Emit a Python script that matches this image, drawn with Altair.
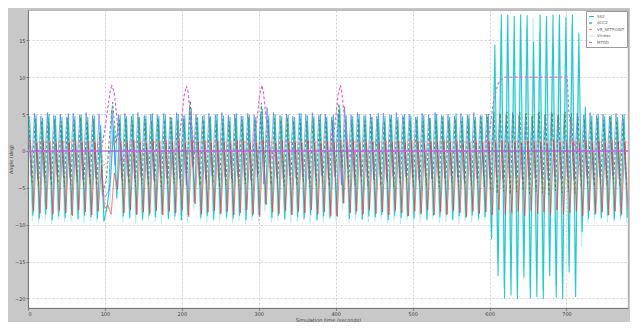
import altair as alt
import pandas as pd

STEP = 4.2          # time between successive extreme points of the oscillations
X_MAX = 780

x_ticks = [0, 100, 200, 300, 400, 500, 600, 700]
y_ticks = [-20, -15, -10, -5, 0, 5, 10, 15]

# oscillating signals: alternating peak / trough values
blue = [4.9,-3.4,5.1,-3.8,4.7,-3.5,5.2,-3.9,4.8,-3.3,5.0,-3.7,4.6,-3.6,5.1,-3.4,4.9,-3.9,5.2,-3.5,
        4.8,-3.6,5.0,-6.0,-6.2,-5.4,5.6,-2.0,4.9,-3.7,5.1,-3.4,4.7,-3.8,5.2,-3.5,4.8,-3.6,5.0,-3.9,
        4.9,-3.4,5.1,-3.7,4.6,-3.5,5.2,-3.8,4.8,-4.6,6.0,-2.2,5.0,-3.6,4.7,-3.9,5.1,-3.4,4.9,-3.7,
        5.2,-3.5,4.8,-3.8,5.0,-3.4,4.7,-3.6,5.1,-3.9,4.9,-3.5,5.0,-4.5,5.9,-2.4,5.2,-3.6,4.8,-3.8,
        5.0,-3.4,4.7,-3.7,5.1,-3.5,4.9,-3.9,5.2,-3.6,4.8,-3.4,5.0,-3.8,4.6,-3.5,5.1,-4.6,6.0,-2.3,
        4.9,-3.7,5.2,-3.4,4.8,-3.6,5.0,-3.9,4.7,-3.5,5.1,-3.8,4.9,-3.4,5.2,-3.7,4.8,-3.5,5.0,-3.6,
        4.6,-3.9,5.1,-3.4,4.9,-3.8,5.2,-3.5,4.8,-3.7,5.0,-3.4,4.7,-3.6,5.1,-3.9,4.9,-3.5,5.2,-3.8,
        4.8,-3.4,5.0,-3.7,4.6,-3.5,5.1,-3.9,4.9,-3.6,5.2,-3.4,4.8,-3.8,5.0,-3.5,4.7,-3.7,5.1,-3.6,
        4.9,-3.9,5.2,-3.4,4.8,-3.7,5.0,-3.5,4.6,-3.8,5.1,-3.6,4.9,-3.4,5.2,-3.9,4.8,-3.5,5.0,-3.7,
        4.7,-3.4,5.1,-3.8,4.9,-3.6]

cyan = [4.7,-8.8,4.9,-9.2,4.5,-8.6,5.0,-9.4,4.8,-8.9,4.6,-9.1,5.1,-8.7,4.7,-9.3,4.9,-8.8,4.6,-9.0,
        4.8,-9.2,3.5,-9.6,-7.5,-4.0,3.2,-6.5,4.9,-8.9,4.7,-9.1,5.0,-8.7,4.6,-9.3,4.8,-8.8,5.1,-9.0,
        4.7,-8.6,4.9,-9.2,4.5,-8.9,5.0,-9.4,4.8,-8.7,5.8,-7.0,4.6,-9.1,4.9,-8.8,4.7,-9.3,5.0,-8.6,
        4.8,-9.0,4.6,-9.2,5.1,-8.8,4.7,-9.4,4.9,-8.9,4.6,-8.7,5.7,-7.2,4.8,-9.1,5.0,-8.8,4.7,-9.3,
        4.9,-8.6,4.6,-9.0,5.1,-9.2,4.8,-8.7,4.7,-9.4,5.0,-8.9,4.6,-9.1,4.9,-8.8,5.8,-7.1,4.8,-9.2,
        4.7,-8.6,5.0,-9.3,4.8,-8.9,4.6,-9.0,5.1,-8.7,4.7,-9.4,4.9,-8.8,4.6,-9.1,5.0,-8.9,4.8,-9.2,
        4.7,-8.6,4.9,-9.3,4.5,-8.8,5.0,-9.0,4.8,-8.7,4.6,-9.4,5.1,-8.9,4.7,-9.1,4.9,-8.8,4.6,-9.2,
        4.8,-9.0,5.0,-12.0,14.4,-17.0,18.5,-20.0,18.5,-19.6,18.3,-20.1,18.5,-17.2,18.4,-20.0,14.8,-19.8,18.5,-20.1,
        18.3,-17.0,18.5,-19.9,18.5,-20.1,18.2,-16.5,18.5,-19.8,16.0,-11.0,6.0,-9.2,4.8,-8.7,5.0,-9.1,4.7,-8.8,
        4.9,-9.3,4.6,-8.9,5.0,-9.0]

pale = [3.4,-9.5,3.7,-9.8,3.2,-9.3,3.6,-9.9,3.5,-9.4,3.3,-9.7,3.8,-9.6,3.4,-9.2,3.6,-9.8,3.2,-9.5,
        3.5,-9.7,2.0,-8.5,-8.0,-7.0,4.5,-5.0,3.4,-9.6,3.7,-9.3,3.3,-9.8,3.6,-9.5,3.5,-9.4,3.2,-9.7,
        3.6,-9.9,3.4,-9.3,3.7,-9.6,3.3,-9.5,3.5,-9.8,5.0,-8.0,3.6,-9.4,3.4,-9.7,3.2,-9.5,3.7,-9.6,
        3.5,-9.3,3.3,-9.8,3.6,-9.5,3.4,-9.9,3.7,-9.4,3.2,-9.6,4.8,-8.2,3.5,-9.7,3.3,-9.5,3.6,-9.3,
        3.4,-9.8,3.7,-9.6,3.2,-9.4,3.5,-9.9,3.6,-9.5,3.3,-9.7,3.4,-9.3,3.7,-9.6,5.0,-8.1,3.5,-9.8,
        3.2,-9.5,3.6,-9.4,3.4,-9.7,3.7,-9.6,3.3,-9.3,3.5,-9.8,3.6,-9.5,3.2,-9.9,3.4,-9.4,3.7,-9.6,
        3.5,-9.7,3.3,-9.5,3.6,-9.3,3.4,-9.8,3.7,-9.6,3.2,-9.4,3.5,-9.9,3.6,-9.5,3.3,-9.7,3.4,-9.6,
        3.7,-9.4,3.5,-11.0,9.0,-15.0,16.5,-18.5,17.8,-17.2,15.0,-18.8,17.6,-16.0,16.8,-18.6,17.9,-17.5,16.2,-18.9,
        17.5,-16.8,14.5,-18.4,17.7,-17.9,16.0,-15.5,17.2,-18.2,12.0,-13.0,5.0,-9.8,3.5,-9.5,3.6,-9.3,3.4,-9.7,
        3.7,-9.6,3.2,-9.4,3.5,-9.8]

green = [4.2,-4.5,4.4,-4.8,4.1,-4.3,4.5,-4.7,4.3,-4.4,4.0,-4.9,4.4,-4.6,4.2,-4.3,4.5,-4.8,4.1,-4.5,
         4.3,-4.7,2.5,-5.5,-4.0,2.0,6.6,1.0,4.2,-4.6,4.4,-4.4,4.1,-4.8,4.5,-4.5,4.3,-4.7,4.0,-4.3,
         4.4,-4.9,4.2,-4.6,4.5,-4.4,4.1,-4.8,4.3,-3.0,6.8,-2.0,4.4,-4.7,4.2,-4.5,4.5,-4.3,4.1,-4.9,
         4.3,-4.6,4.0,-4.4,4.4,-4.8,4.2,-4.5,4.5,-4.7,4.1,-3.2,6.5,-2.2,4.3,-4.6,4.4,-4.4,4.2,-4.8,
         4.5,-4.5,4.1,-4.7,4.3,-4.3,4.0,-4.9,4.4,-4.6,4.2,-4.4,4.5,-4.8,4.1,-3.1,6.4,-2.4,4.3,-4.5,
         4.2,-4.6,4.4,-4.4,4.1,-4.8,4.5,-4.5,4.3,-4.7,4.0,-4.3,4.4,-4.9,4.2,-4.6,4.5,-4.4,4.1,-4.8,
         4.3,-4.5,4.0,-4.7,4.4,-4.3,4.2,-4.9,4.5,-4.6,4.1,-4.4,4.3,-4.8,4.0,-4.5,4.4,-4.7,4.2,-4.3,
         4.5,-4.9,4.6,-5.4,5.2,-5.8,5.0,-5.5,5.3,-5.9,4.9,-5.6,5.2,-5.4,5.1,-5.8,4.8,-5.5,5.3,-5.7,
         5.0,-5.9,5.2,-5.4,4.9,-5.7,5.3,-5.5,5.1,-5.8,4.7,-5.0,4.3,-4.6,4.1,-4.8,4.4,-4.5,4.2,-4.7,
         4.5,-4.4,4.1,-4.8,4.3,-4.6]

red = [1.3,-8.2,1.1,-8.5,1.4,-7.9,1.2,-8.6,1.0,-8.1,1.3,-8.4,1.2,-8.8,1.4,-8.0,1.1,-8.3,1.3,-8.7,
       1.2,-8.2,-2.0,-7.8,-7.4,-8.6,-3.0,-5.2,1.3,-8.4,1.1,-8.0,1.4,-8.6,1.2,-8.3,1.0,-8.5,1.3,-8.1,
       1.2,-8.7,1.4,-8.2,1.1,-8.4,1.3,-8.0,1.0,-8.9,1.5,-7.2,1.2,-8.6,1.4,-8.3,1.1,-8.1,1.3,-8.5,
       1.2,-8.2,1.0,-8.7,1.4,-8.4,1.3,-8.0,1.1,-8.6,1.2,-8.9,1.5,-7.3,1.3,-8.3,1.0,-8.5,1.4,-8.1,
       1.2,-8.7,1.3,-8.2,1.1,-8.4,1.4,-8.0,1.2,-8.6,1.0,-8.3,1.3,-8.8,1.1,-8.9,1.5,-7.1,1.2,-8.4,
       1.4,-8.2,1.1,-8.6,1.3,-8.0,1.2,-8.5,1.0,-8.3,1.4,-8.7,1.2,-8.1,1.3,-8.4,1.1,-8.8,1.4,-8.2,
       1.2,-8.5,1.0,-8.0,1.3,-8.7,1.1,-8.3,1.4,-8.6,1.2,-8.1,1.3,-8.4,1.0,-8.9,1.2,-8.2,1.4,-8.5,
       1.1,-8.3,1.3,-8.7,1.2,-8.0,1.4,-8.6,1.0,-8.4,1.3,-8.2,1.1,-8.8,1.4,-8.1,1.2,-8.5,1.3,-8.3,
       1.0,-8.7,1.4,-8.0,1.2,-8.6,1.1,-8.4,1.3,-8.2,1.2,-8.8,1.4,-8.1,1.0,-8.5,1.3,-8.3,1.1,-8.7,
       1.4,-8.2,1.2,-8.6,1.3,-8.0]

# slowly varying signals, given as (time, value) breakpoints
setpoint_t = [0, 94, 98, 104, 108, 780]
setpoint_v = [1.2, 1.2, -2.0, -1.5, 1.2, 1.2]

zero_t = [0, 780]
zero_v = [0.0, 0.0]

mtdd_t = [0, 92, 96, 100, 104, 107, 109, 112, 116, 120, 124, 130,
          192, 196, 200, 203, 206, 208, 212, 216, 220, 226,
          290, 294, 298, 301, 304, 306, 310, 314, 318, 324,
          392, 396, 400, 403, 406, 408, 412, 416, 420, 426,
          594, 597, 601, 605, 611, 616, 620, 701, 703, 707, 714, 720, 780]
mtdd_v = [0, 0, 0.5, 3.0, 6.0, 8.2, 8.8, 8.0, 4.0, 0.0, -1.5, 0,
          0, 1.0, 4.5, 7.5, 8.8, 8.0, 4.0, 0.5, -1.0, 0,
          0, 1.0, 4.5, 7.5, 8.9, 8.0, 4.0, 0.5, -1.0, 0,
          0, 1.0, 4.5, 7.5, 8.9, 8.0, 4.0, 0.5, -1.0, 0,
          0, 1.0, 3.3, 6.6, 9.1, 9.7, 10.0, 10.0, 5.4, 1.6, 0.2, 0, 0]

# series: name, color, dash, width, opacity (drawing order bottom -> top)
order = ["Vmeas", "SS2", "Ib", "dCC2", "VR", "VR_SETPOINT", "Ref", "MTDD"]
colors = ["#a6ecec", "#12c4c8", "#4a66ff", "#2e9e5a", "#ff2a2a", "#ff8a7a", "#a060d0", "#e066e6"]
dashes = [[1, 0], [1, 0], [1, 0], [3, 2], [1, 0], [3, 2], [1, 0], [3, 2]]
widths = [1.2, 1.1, 0.9, 1.0, 0.9, 1.0, 1.5, 1.2]
alphas = [0.8, 0.9, 0.7, 0.9, 0.75, 0.9, 0.8, 1.0]
legend_names = ["SS2", "dCC2", "VR_SETPOINT", "Vmeas", "MTDD"]

zig = {"Vmeas": (pale, 1.4), "VR": (red, 3.1), "dCC2": (green, 1.0), "Ib": (blue, 0.0), "SS2": (cyan, 2.1)}
brk = {"VR_SETPOINT": (setpoint_t, setpoint_v), "Ref": (zero_t, zero_v), "MTDD": (mtdd_t, mtdd_v)}

rows = []
for i, name in enumerate(order):
    if name in zig:
        vals, phase = zig[name]
        pts = [(phase + STEP * k, v) for k, v in enumerate(vals)]
    else:
        ts, vs = brk[name]
        pts = list(zip(ts, vs))
    for t, v in pts:
        rows.append({"series": name, "t": t, "v": v, "sw": widths[i], "op": alphas[i], "ord": i})
df = pd.DataFrame(rows)

W, H = 600, 298

chart = alt.Chart(df).mark_line(clip=True).encode(
    x=alt.X("t:Q", scale=alt.Scale(domain=[0, X_MAX], nice=False, zero=False),
            axis=alt.Axis(values=x_ticks, title="Simulation time (seconds)", format="d")),
    y=alt.Y("v:Q", scale=alt.Scale(domain=[-21.3, 19.1], nice=False, zero=False),
            axis=alt.Axis(values=y_ticks, title="Angle (deg)", format="d")),
    color=alt.Color("series:N", scale=alt.Scale(domain=order, range=colors),
                    legend=alt.Legend(values=legend_names, title=None, orient="none",
                                      legendX=W - 42, legendY=1, symbolType="stroke",
                                      symbolSize=24, symbolStrokeWidth=1.2,
                                      labelFontSize=4, labelColor="#666",
                                      rowPadding=0.5, padding=2, fillColor="white",
                                      strokeColor="#999", labelLimit=60, labelOffset=2)),
    strokeDash=alt.StrokeDash("series:N", scale=alt.Scale(domain=order, range=dashes), legend=None),
    strokeWidth=alt.StrokeWidth("sw:Q", scale=None),
    opacity=alt.Opacity("op:Q", scale=None),
    order=alt.Order("ord:Q"),
).properties(
    width=W, height=H,
    autosize=alt.AutoSizeParams(type="none"),
    padding={"left": 20, "top": 2, "right": 2, "bottom": 14},
).configure(
    background="#c8c8c8", font="DejaVu Sans",
).configure_view(
    fill="white", stroke="#9a9a9a", strokeWidth=0.8,
).configure_axis(
    labelFontSize=5, labelColor="#444", titleFontSize=5, titleColor="#444",
    titleFontWeight="normal", domainColor="#777", tickColor="#777", tickSize=2,
    labelPadding=1, titlePadding=1, gridColor="#c4c4c4", gridDash=[2, 2], gridWidth=0.8,
)

chart.save("out.html", embed_options={"renderer": "svg", "actions": False})
